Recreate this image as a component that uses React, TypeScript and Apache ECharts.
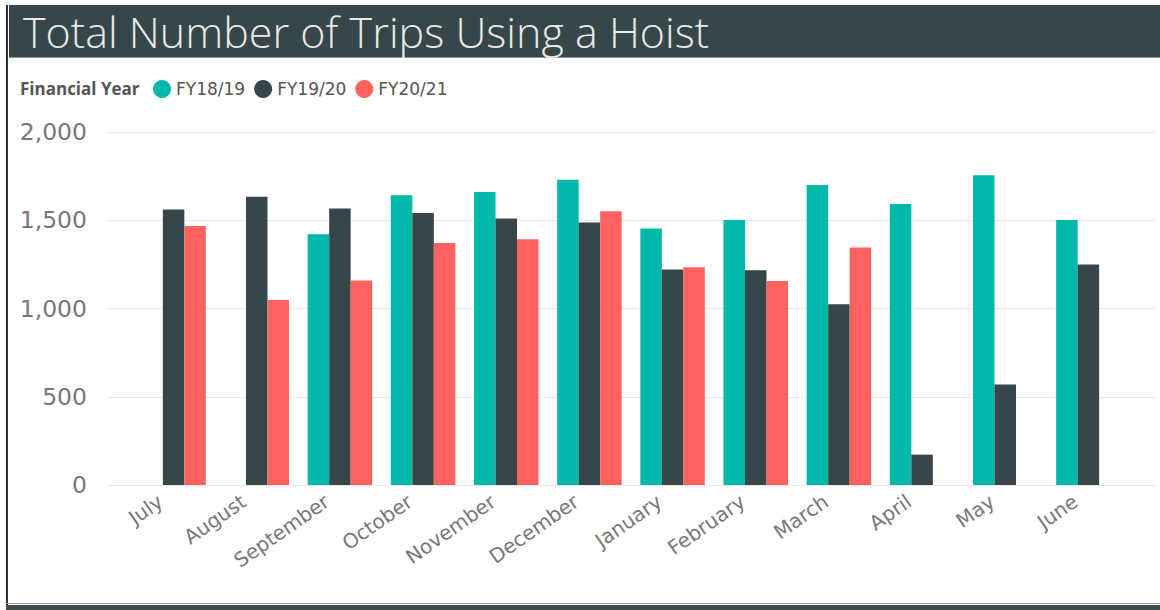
import React, { useEffect, useRef } from "react";
import * as echarts from "echarts";

const months = ["July", "August", "September", "October", "November", "December", "January", "February", "March", "April", "May", "June"];
const seriesNames = ["FY18/19", "FY19/20", "FY20/21"];
const fy1819 = [null, null, 1420, 1641, 1660, 1730, 1453, 1502, 1700, 1592, 1755, 1502];
const fy1920 = [1561, 1633, 1567, 1541, 1510, 1487, 1221, 1217, 1024, 172, 570, 1249];
const fy2021 = [1467, 1048, 1159, 1371, 1392, 1551, 1234, 1156, 1345, null, null, null];
const colors = ["#01B8AA", "#374649", "#FD625E"];
const yTicks = { min: 0, max: 2000, interval: 500 };

const FONT = "'Open Sans', 'Noto Sans', sans-serif";
const WIDE = "'DejaVu Sans', 'Open Sans', sans-serif";

export default function App() {
  const ref = useRef<HTMLDivElement>(null);
  useEffect(() => {
    if (!ref.current) return;
    const chart = echarts.init(ref.current, null, { renderer: "svg" });
    const data = [fy1819, fy1920, fy2021];
    chart.setOption({
      animation: false,
      backgroundColor: "#ffffff",
      textStyle: { fontFamily: FONT },
      title: {
        text: "Total Number of Trips Using a Hoist",
        left: 18,
        top: 5,
        z: 10,
        textStyle: { color: "#E8E8E8", fontSize: 43, fontWeight: 300, fontFamily: FONT },
      },
      legend: {
        data: seriesNames,
        left: 148,
        top: 75,
        icon: "circle",
        itemWidth: 18,
        itemHeight: 18,
        itemGap: 9,
        textStyle: { color: "#555", fontSize: 17, fontFamily: WIDE },
      },
      graphic: [
        { type: "rect", z: 0, shape: { x: 9, y: 5, width: 1151, height: 52 }, style: { fill: "#374649" } },
        { type: "line", z: 0, shape: { x1: 9, y1: 57.5, x2: 1160, y2: 57.5 }, style: { stroke: "#8A9597", lineWidth: 1 } },
        { type: "rect", z: 0, shape: { x: 6, y: 5, width: 2, height: 605 }, style: { fill: "#333" } },
        { type: "line", z: 0, shape: { x1: 6, y1: 603.5, x2: 1160, y2: 603.5 }, style: { stroke: "#999", lineWidth: 1 } },
        { type: "rect", z: 0, shape: { x: 6, y: 605, width: 1154, height: 5 }, style: { fill: "#3E4A4C" } },
        {
          type: "text",
          z: 10,
          left: 20,
          top: 80,
          style: { text: "Financial Year", fill: "#555", font: `bold 17px ${FONT}` },
        },
      ],
      grid: [
        { left: 132, right: 30, top: 132, bottom: 125 },
        { left: 107, right: 5, top: 132, bottom: 125 },
      ],
      xAxis: [
        {
          type: "category",
          gridIndex: 0,
          data: months,
          axisLine: { show: false },
          axisTick: { show: false },
          axisLabel: {
            rotate: 35,
            color: "#777",
            fontSize: 20,
            margin: 5,
            padding: [0, 16, 0, 0],
            fontFamily: WIDE,
          },
        },
        { type: "category", gridIndex: 1, data: [""], show: false },
      ],
      yAxis: [
        { type: "value", gridIndex: 0, ...yTicks, show: false, splitLine: { show: false } },
        {
          type: "value",
          gridIndex: 1,
          ...yTicks,
          axisLine: { show: false },
          axisTick: { show: false },
          axisLabel: {
            color: "#777",
            fontSize: 23.5,
            margin: 20,
            fontFamily: WIDE,
            formatter: (v: number) => v.toLocaleString("en-US"),
          },
          splitLine: { lineStyle: { color: "#E9E9E9", width: 1 } },
        },
      ],
      series: seriesNames.map((name, i) => ({
        name,
        type: "bar",
        xAxisIndex: 0,
        yAxisIndex: 0,
        data: data[i],
        barWidth: 21.5,
        barGap: "0%",
        itemStyle: { color: colors[i] },
      })),
      color: colors,
    });
    return () => chart.dispose();
  }, []);
  return (
    <div
      ref={ref}
      style={{ position: "absolute", left: 0, top: 0, width: 1160, height: 610, background: "#fff" }}
    />
  );
}
